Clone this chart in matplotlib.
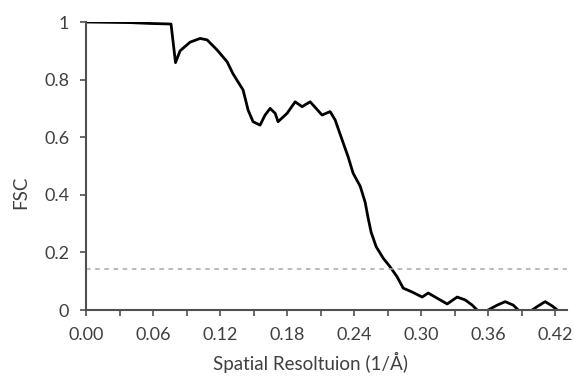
import matplotlib
matplotlib.use("Agg")
import matplotlib.pyplot as plt
import numpy as np

# Data
resolution = [0.000, 0.0394, 0.0573, 0.0761, 0.0801, 0.0842, 0.0931, 0.1021, 0.1084,
              0.1173, 0.1263, 0.1316, 0.1406, 0.1451, 0.1495, 0.1558, 0.1603, 0.1648,
              0.1693, 0.1719, 0.1800, 0.1872, 0.1934, 0.2006, 0.2113, 0.2185, 0.2230,
              0.2275, 0.2346, 0.2391, 0.2454, 0.2498, 0.2525, 0.2552, 0.2597, 0.2660,
              0.2722, 0.2785, 0.2839, 0.2919, 0.3009, 0.3063, 0.3125, 0.3233, 0.3322,
              0.3394, 0.3457, 0.3501, 0.3546, 0.3600, 0.3681, 0.3752, 0.3824, 0.3869,
              0.3931, 0.3994, 0.4039, 0.4110, 0.4173, 0.4218, 0.4263]
fsc = [1.000, 0.998, 0.995, 0.993, 0.859, 0.900, 0.930, 0.943, 0.938,
       0.903, 0.862, 0.820, 0.764, 0.694, 0.654, 0.642, 0.677, 0.700,
       0.683, 0.654, 0.683, 0.723, 0.706, 0.723, 0.677, 0.689, 0.660,
       0.610, 0.532, 0.475, 0.430, 0.375, 0.320, 0.270, 0.220, 0.180,
       0.150, 0.115, 0.076, 0.0625, 0.045, 0.059, 0.045, 0.021, 0.045,
       0.035, 0.017, 0.000, -0.010, 0.000, 0.017, 0.029, 0.017, 0.000,
       -0.010, 0.000, 0.012, 0.029, 0.014, 0.000, -0.010]
threshold = 0.143
x_ticks = [0.00, 0.03, 0.06, 0.09, 0.12, 0.15, 0.18, 0.21, 0.24, 0.27, 0.30, 0.33, 0.36, 0.39, 0.42]
x_labels = ["0.00", "", "0.06", "", "0.12", "", "0.18", "", "0.24", "", "0.30", "", "0.36", "", "0.42"]
y_ticks = [0, 0.2, 0.4, 0.6, 0.8, 1.0]
y_labels = ["0", "0.2", "0.4", "0.6", "0.8", "1"]

plt.rcParams['font.family'] = ['Lato', 'DejaVu Sans']
txt = '#404040'

fig = plt.figure(figsize=(5.75, 3.77), dpi=100)
ax = fig.add_axes([0.1496, 0.1777, 0.9864 - 0.1496, 0.9416 - 0.1777])

ax.plot(resolution, fsc, color='black', lw=2.0, solid_joinstyle='round')
ax.axhline(threshold, color='#a8a8a8', lw=1.1, ls=(0, (3, 3)))

ax.set_xlim(0, 0.4307)
ax.set_ylim(0, 1)
ax.set_xticks(x_ticks)
ax.set_xticklabels(x_labels)
ax.set_yticks(y_ticks)
ax.set_yticklabels(y_labels)

for s in ['top', 'right']:
    ax.spines[s].set_visible(False)
for s in ['left', 'bottom']:
    ax.spines[s].set_color('#505050')
    ax.spines[s].set_linewidth(1.5)

ax.tick_params(axis='both', direction='out', length=4.5, width=1.2, color='#505050',
               labelsize=13, labelcolor=txt)
ax.tick_params(axis='x', pad=7.5)
ax.tick_params(axis='y', pad=7.5)

ax.set_xlabel('Spatial Resoltuion (1/Å)', fontsize=13.5, color=txt)
ax.set_ylabel('FSC', fontsize=13.5, color=txt)
ax.xaxis.set_label_coords(0.466, -0.145)
ax.yaxis.set_label_coords(-0.118, 0.41)

fig.savefig('out.png', dpi=100)
